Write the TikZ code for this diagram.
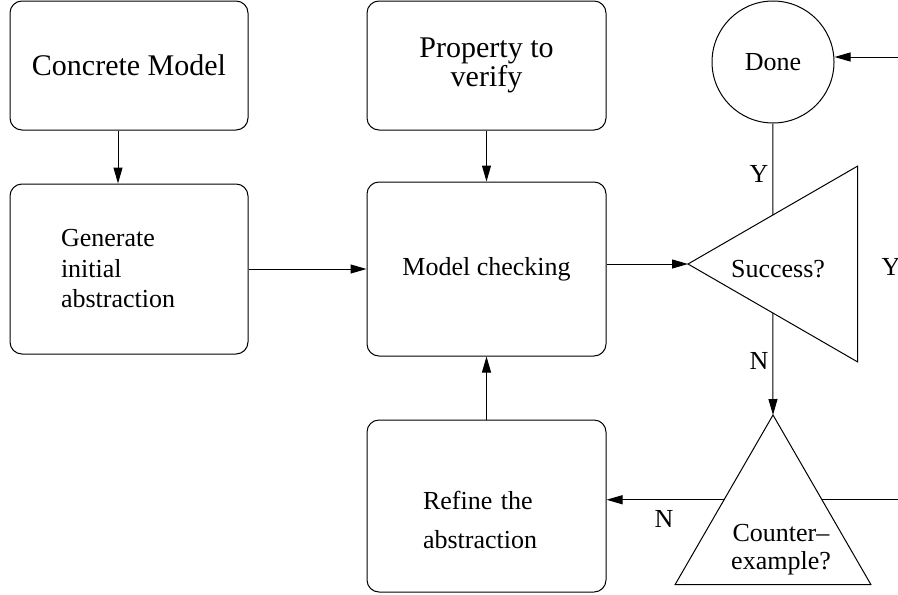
\documentclass[tikz,border=0pt]{standalone}
\usepackage{fontspec}
\setmainfont{Liberation Serif}
\usetikzlibrary{arrows.meta, shapes.geometric}

\begin{document}
\begin{tikzpicture}[x=.5pt, y=-.5pt, line width=.5pt,
        box/.style={draw, rounded corners=6pt, minimum width=119pt, font=\fontsize{13}{15}\selectfont},
        tri/.style={draw, fill=white, regular polygon, regular polygon sides=3, minimum size=113pt, inner sep=0pt, outer sep=0pt},
        arr/.style={-{Triangle[length=8pt, width=4.5pt]}},
        lbl/.style={inner sep=2pt, font=\fontsize{13}{15}\selectfont}]
    \useasboundingbox (0,0) rectangle (898,594);
    \clip (0,0) rectangle (898,594);
    % left column
    \node[box, minimum height=64.5pt, font=\fontsize{15}{13}\selectfont] (concrete) at (129,65.5) {Concrete Model};
    \node[box, minimum height=85pt, text width=68pt, inner xsep=25.5pt, align=left, font=\fontsize{13}{15.25}\selectfont] (generate) at (129,269) {Generate\\ initial\\ abstraction};
    % middle column
    \node[box, minimum width=119.5pt, minimum height=64.5pt, align=center, font=\fontsize{15}{13}\selectfont] (property) at (486.5,65.5) {Property to\\ verify};
    \node[box, minimum width=119.5pt, minimum height=87pt] (model) at (486.5,269) {Model checking};
    \node[box, minimum height=86pt, text width=63.5pt, inner xsep=28pt, align=left, text depth=6pt, font=\fontsize{13}{19.5}\selectfont] (refine) at (486.5,506) {Refine the\\ abstraction};
    % right column
    \coordinate (entry) at (930,57);
    \coordinate (exit) at (930,500);
    \node[draw, circle, minimum size=61pt, inner sep=0pt, font=\fontsize{13}{15}\selectfont] (done) at (773,62) {Done};
    \node[tri, shape border rotate=90, label={[lbl, xshift=-11.5pt, yshift=-2.5pt]center:Success?}] (succ) at (801,264) {};
    \node[tri, label={[lbl, align=center, font=\fontsize{13}{14}\selectfont, xshift=4pt, yshift=-10.7pt]center:Counter--\\ example?}] (cex) at (773,528) {};
    \node[lbl] (yes) at (891,267) {Y};
    % connectors
    \draw[arr] ([xshift=-5.5pt]concrete.south) -- ([xshift=-5.5pt]generate.north);
    \draw[arr] (property) -- (model);
    \draw[arr] (generate) -- (model);
    \draw[arr] (refine) -- (model);
    \draw[arr] (model.east |- succ.corner 1) -- (succ.corner 1);
    \draw (succ.side 3) -- node[lbl, left, pos=.45] {Y} (done);
    \draw[arr] (succ.side 1) -- node[lbl, left, pos=.47] {N} (cex.corner 1);
    \draw[arr] (cex.side 1) -- node[lbl, below=3pt, pos=.51] {N} (cex.side 1 -| refine.east);
    \draw (cex.side 3) -- (cex.side 3 -| exit);
    \draw[arr] (entry) -- (entry -| done.east);
\end{tikzpicture}
\end{document}
